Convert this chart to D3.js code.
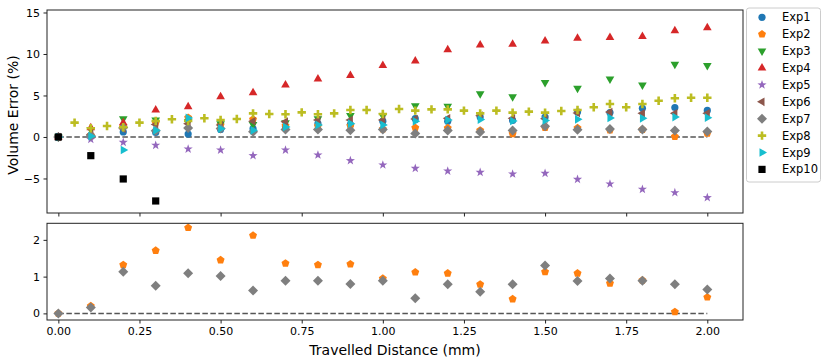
<!DOCTYPE html>
<html>
<head>
<meta charset="utf-8">
<script src="https://cdn.jsdelivr.net/npm/d3@7"></script>
<style>
  body { margin: 0; background: #fff; }
  text { font-family: "DejaVu Sans", sans-serif; fill: #000; }
</style>
</head>
<body>
<script>
// distances (mm)
var dist = d3.range(21).map(i => +(i * 0.1).toFixed(2))
var dist8 = d3.range(1, 41).map(i => +(i * 0.05).toFixed(2))
var dist10 = [0, 0.1, 0.2, 0.3]

var exp1 = [0, 0.2, 0.6, 0.55, 0.35, 0.9, 1.0, 1.3, 1.6, 1.5, 1.9, 2.2, 1.9, 2.4, 2.0, 2.4, 3.0, 2.95, 3.45, 3.55, 3.2]
var exp2 = [0, 0.2, 1.32, 1.71, 2.33, 1.45, 2.12, 1.36, 1.32, 1.34, 0.95, 1.12, 1.09, 0.79, 0.39, 1.13, 1.09, 0.82, 0.9, 0.04, 0.44]
var exp3 = [0, 0.9, 2.2, 2.05, 1.85, 1.6, 1.5, 1.7, 2.2, 2.6, 2.57, 3.75, 3.7, 5.2, 4.86, 6.55, 5.86, 7.0, 6.27, 8.76, 8.6]
var exp4 = [0, 1.1, 1.7, 3.25, 3.65, 4.86, 5.34, 6.27, 7.0, 7.4, 8.6, 9.16, 10.5, 11.08, 11.17, 11.57, 11.9, 12.0, 12.1, 12.8, 13.17]
var exp5 = [0, -0.3, -0.64, -1.0, -1.45, -1.57, -2.25, -1.57, -2.17, -2.85, -3.37, -3.78, -4.1, -4.26, -4.46, -4.38, -5.1, -5.66, -6.3, -6.71, -7.31]
var exp6 = [0, 0.3, 1.0, 1.5, 1.6, 1.45, 1.9, 1.85, 2.05, 2.05, 2.05, 2.17, 2.25, 2.57, 2.25, 2.2, 2.9, 3.0, 2.85, 2.85, 2.85]
var exp7 = [0, 0.16, 1.13, 0.75, 1.09, 1.02, 0.62, 0.89, 0.89, 0.8, 0.89, 0.41, 0.79, 0.59, 0.79, 1.3, 0.88, 0.95, 0.89, 0.79, 0.65]
var exp8 = [1.73, 1.05, 1.33, 1.17, 1.73, 1.93, 2.13, 1.93, 2.25, 2.05, 2.17, 2.85, 2.77, 2.73, 2.97, 2.73, 2.85, 3.25, 3.25, 2.77,
            3.37, 3.17, 3.33, 3.33, 3.17, 2.85, 3.17, 2.93, 3.05, 2.93, 3.13, 3.25, 3.58, 3.97, 3.58, 3.97, 4.37, 4.66, 4.73, 4.73]
var exp9 = [0, 0.1, -1.57, 0.8, 2.3, 1.0, 0.8, 1.2, 1.45, 1.6, 1.45, 1.9, 2.05, 2.1, 1.93, 2.0, 2.13, 2.3, 2.25, 2.4, 2.33]
var exp10 = [0, -2.25, -5.06, -7.71]

var names = ['Exp1', 'Exp2', 'Exp3', 'Exp4', 'Exp5', 'Exp6', 'Exp7', 'Exp8', 'Exp9', 'Exp10']
var colors = ['#1f77b4', '#ff7f0e', '#2ca02c', '#d62728', '#9467bd', '#8c564b', '#7f7f7f', '#bcbd22', '#17becf', '#000000']
var shapes = ['circle', 'pentagon', 'tdown', 'tup', 'star', 'tleft', 'diamond', 'plus', 'tright', 'square']

var xTicks = [0, 0.25, 0.5, 0.75, 1.0, 1.25, 1.5, 1.75, 2.0]
var yTicksTop = [-5, 0, 5, 10, 15]
var yTicksBottom = [0, 1, 2]

var series = [
  {x: dist, y: exp1}, {x: dist, y: exp2}, {x: dist, y: exp3}, {x: dist, y: exp4}, {x: dist, y: exp5},
  {x: dist, y: exp6}, {x: dist, y: exp7}, {x: dist8, y: exp8}, {x: dist, y: exp9}, {x: dist10, y: exp10}
]
series.forEach((s, i) => { s.name = names[i]; s.color = colors[i]; s.shape = shapes[i] })

var width = 829, height = 360
var svg = d3.select('body').append('svg')
  .attr('width', width)
  .attr('height', height)

var left = 47, right = 743
var x = d3.scaleLinear().domain([-0.035, 2.11]).range([left, right])
var yTop = d3.scaleLinear().domain([-9.16, 15.3]).range([213, 10])
var yBot = d3.scaleLinear().domain([-0.18, 2.45]).range([320, 223.3])

// marker path centred on 0,0
function poly(n, r, rot) {
  var pts = d3.range(n).map(k => {
    var a = rot + k * 2 * Math.PI / n
    return [r * Math.cos(a), r * Math.sin(a)]
  })
  return 'M' + pts.map(p => p[0].toFixed(2) + ',' + p[1].toFixed(2)).join('L') + 'Z'
}
function marker(shape) {
  switch (shape) {
    case 'circle': return d3.symbol(d3.symbolCircle, Math.PI * 3.6 * 3.6)()
    case 'square': return 'M-3.6,-3.6H3.6V3.6H-3.6Z'
    case 'pentagon': return poly(5, 4.2, -Math.PI / 2)
    case 'tup': return poly(3, 5, -Math.PI / 2)
    case 'tdown': return poly(3, 5, Math.PI / 2)
    case 'tleft': return poly(3, 5, Math.PI)
    case 'tright': return poly(3, 5, 0)
    case 'diamond': return 'M0,-5L5,0L0,5L-5,0Z'
    case 'plus': return 'M-1.3,-4.2H1.3V-1.3H4.2V1.3H1.3V4.2H-1.3V1.3H-4.2V-1.3H-1.3Z'
    case 'star':
      var pts = d3.range(10).map(k => {
        var r = k % 2 ? 1.9 : 4.8
        var a = -Math.PI / 2 + k * Math.PI / 5
        return [r * Math.cos(a), r * Math.sin(a)]
      })
      return 'M' + pts.map(p => p[0].toFixed(2) + ',' + p[1].toFixed(2)).join('L') + 'Z'
  }
}

function drawPanel(y, yTicks, list, top, bottom, showX) {
  var g = svg.append('g')
  // zero line
  g.append('line')
    .attr('x1', x(0)).attr('x2', x(2))
    .attr('y1', y(0)).attr('y2', y(0))
    .attr('stroke', '#555').attr('stroke-width', 1.5)
    .attr('stroke-dasharray', '5.5,2.5')

  list.forEach(s => {
    g.append('g').selectAll('path')
      .data(s.x.map((d, i) => [d, s.y[i]]))
      .enter().append('path')
        .attr('d', marker(s.shape))
        .attr('transform', d => 'translate(' + x(d[0]) + ',' + y(d[1]) + ')')
        .attr('fill', s.color)
  })

  // frame
  g.append('rect')
    .attr('x', left).attr('y', top)
    .attr('width', right - left).attr('height', bottom - top)
    .attr('fill', 'none').attr('stroke', '#222').attr('stroke-width', 1)

  var ya = g.append('g')
    .attr('transform', 'translate(' + left + ',0)')
    .call(d3.axisLeft(y).tickValues(yTicks).tickSize(3.5).tickPadding(3.5).tickFormat(d => d < 0 ? '\u2212' + Math.abs(d) : d))
  ya.select('.domain').remove()
  ya.selectAll('text').attr('font-size', 11).attr('font-family', 'DejaVu Sans')
  ya.selectAll('line').attr('stroke', '#222')

  var xa = g.append('g')
    .attr('transform', 'translate(0,' + bottom + ')')
    .call(d3.axisBottom(x).tickValues(xTicks).tickSize(3.5).tickPadding(3.5).tickFormat(showX ? d3.format('.2f') : ''))
  xa.select('.domain').remove()
  xa.selectAll('text').attr('font-size', 11).attr('font-family', 'DejaVu Sans')
  xa.selectAll('line').attr('stroke', '#222')
}

drawPanel(yTop, yTicksTop, series, 10, 213, false)
drawPanel(yBot, yTicksBottom, [series[1], series[6]], 223.3, 320, true)

svg.append('text')
  .attr('x', (left + right) / 2).attr('y', 355)
  .attr('text-anchor', 'middle').attr('font-size', 14)
  .text('Travelled Distance (mm)')

svg.append('text')
  .attr('transform', 'translate(18,115) rotate(-90)')
  .attr('text-anchor', 'middle').attr('font-size', 14)
  .text('Volume Error (%)')

// legend
var lg = svg.append('g')
lg.append('rect')
  .attr('x', 746.5).attr('y', 8).attr('width', 74).attr('height', 174)
  .attr('rx', 2.5).attr('fill', '#fff').attr('stroke', '#ccc').attr('stroke-width', 1)
var items = lg.selectAll('g.item').data(series).enter().append('g')
  .attr('transform', (d, i) => 'translate(0,' + (17.3 + i * 16.9) + ')')
items.append('path')
  .attr('d', d => marker(d.shape))
  .attr('transform', 'translate(762,0)')
  .attr('fill', d => d.color)
items.append('text')
  .attr('x', 782).attr('y', 0).attr('dy', '0.35em')
  .attr('font-size', 11.5)
  .text(d => d.name)
</script>
</body>
</html>
